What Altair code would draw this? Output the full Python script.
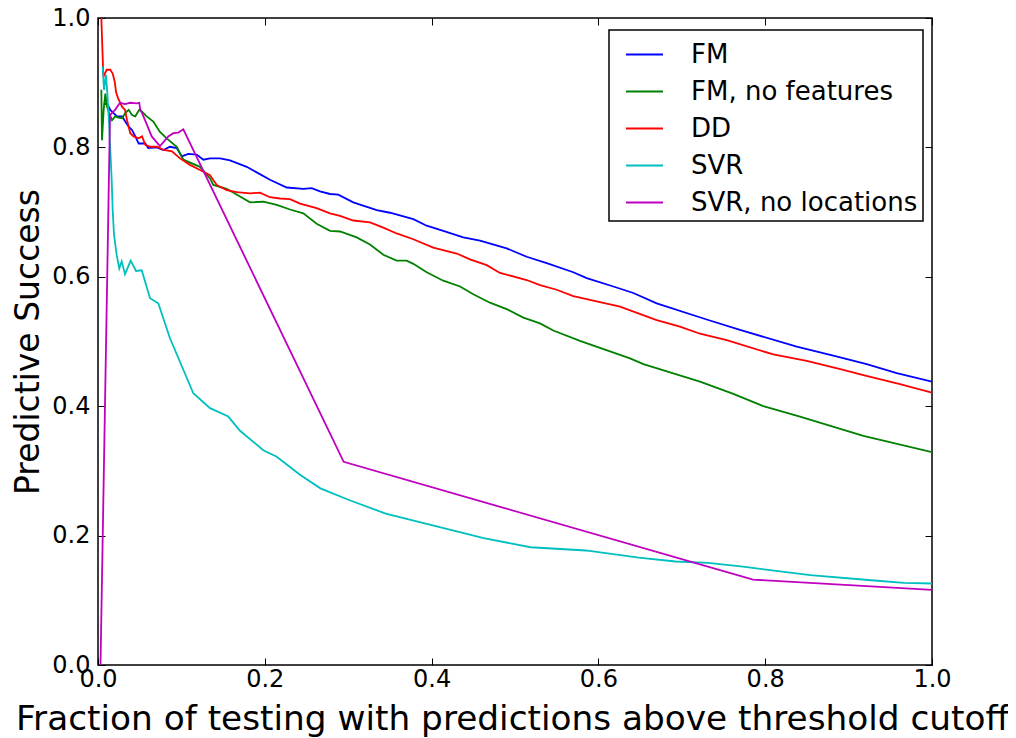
import altair as alt
import pandas as pd

# ---- data ----
series = ["FM", "FM, no features", "DD", "SVR", "SVR, no locations"]
colors = ["#0000ff", "#008000", "#ff0000", "#00bfbf", "#bf00bf"]

fm_x = [0.0068, 0.0108, 0.0147, 0.0228, 0.0288, 0.0327, 0.0368, 0.0408, 0.0447, 0.0488,
        0.0567, 0.0603, 0.0704, 0.0783, 0.0863, 0.0944, 0.1004, 0.1083, 0.1183, 0.1263,
        0.1343, 0.1463, 0.1583, 0.1783, 0.2062, 0.2263, 0.2462, 0.2562, 0.2662, 0.2782,
        0.2881, 0.3061, 0.3342, 0.3501, 0.3781, 0.3941, 0.4140, 0.4380, 0.4580, 0.4900,
        0.5140, 0.5380, 0.5699, 0.5860, 0.6179, 0.6419, 0.6699, 0.7298, 0.7698, 0.8378,
        0.8816, 0.9217, 0.9577, 1.0]
fm_y = [0.866, 0.868, 0.858, 0.848, 0.848, 0.840, 0.832, 0.827, 0.817, 0.806,
        0.806, 0.799, 0.800, 0.796, 0.801, 0.799, 0.786, 0.790, 0.789, 0.781,
        0.783, 0.783, 0.780, 0.770, 0.750, 0.738, 0.736, 0.737, 0.732, 0.728,
        0.727, 0.715, 0.703, 0.699, 0.689, 0.679, 0.671, 0.661, 0.656, 0.644,
        0.631, 0.621, 0.607, 0.598, 0.585, 0.575, 0.559, 0.534, 0.518, 0.492,
        0.478, 0.465, 0.451, 0.438]

fmnf_x = [0.0040, 0.0048, 0.0068, 0.0088, 0.0108, 0.0135, 0.0168, 0.0207, 0.0246, 0.0288,
          0.0327, 0.0368, 0.0408, 0.0447, 0.0495, 0.0528, 0.0584, 0.0663, 0.0743, 0.0824,
          0.0944, 0.1023, 0.1223, 0.1343, 0.1383, 0.1543, 0.1703, 0.1823, 0.1982, 0.2143,
          0.2302, 0.2462, 0.2622, 0.2782, 0.2902, 0.3102, 0.3261, 0.3421, 0.3581, 0.3701,
          0.3781, 0.3941, 0.4140, 0.4341, 0.4500, 0.4700, 0.4900, 0.5100, 0.5300, 0.5459,
          0.5779, 0.6019, 0.6379, 0.6540, 0.7218, 0.7618, 0.7977, 0.8417, 0.9177, 1.0]
fmnf_y = [0.889, 0.811, 0.858, 0.883, 0.863, 0.853, 0.842, 0.848, 0.846, 0.845,
          0.853, 0.858, 0.850, 0.848, 0.858, 0.855, 0.848, 0.840, 0.824, 0.814,
          0.801, 0.781, 0.770, 0.752, 0.742, 0.736, 0.724, 0.715, 0.716, 0.711,
          0.704, 0.698, 0.682, 0.671, 0.670, 0.661, 0.650, 0.634, 0.625, 0.625,
          0.620, 0.607, 0.594, 0.585, 0.573, 0.560, 0.550, 0.537, 0.528, 0.517,
          0.501, 0.490, 0.474, 0.465, 0.438, 0.419, 0.400, 0.384, 0.354, 0.329]

dd_x = [0.0040, 0.0064, 0.0104, 0.0147, 0.0176, 0.0200, 0.0216, 0.0240, 0.0288, 0.0324,
        0.0348, 0.0387, 0.0428, 0.0488, 0.0528, 0.0567, 0.0627, 0.0707, 0.0788, 0.0887,
        0.0983, 0.1103, 0.1223, 0.1343, 0.1423, 0.1543, 0.1663, 0.1823, 0.1942, 0.2062,
        0.2182, 0.2302, 0.2422, 0.2622, 0.2782, 0.2902, 0.3061, 0.3261, 0.3421, 0.3581,
        0.3781, 0.4020, 0.4301, 0.4460, 0.4661, 0.4820, 0.5140, 0.5300, 0.5500, 0.5699,
        0.6019, 0.6259, 0.6699, 0.6978, 0.7218, 0.7538, 0.8097, 0.8498, 0.8937, 0.9177,
        0.9616, 1.0]
dd_y = [1.000, 0.909, 0.920, 0.920, 0.914, 0.902, 0.886, 0.876, 0.863, 0.858,
        0.842, 0.822, 0.817, 0.814, 0.817, 0.804, 0.801, 0.801, 0.796, 0.794,
        0.783, 0.773, 0.765, 0.757, 0.742, 0.734, 0.731, 0.729, 0.730, 0.723,
        0.721, 0.720, 0.713, 0.706, 0.698, 0.694, 0.687, 0.684, 0.676, 0.667,
        0.658, 0.645, 0.636, 0.627, 0.618, 0.606, 0.595, 0.587, 0.580, 0.570,
        0.561, 0.554, 0.533, 0.523, 0.512, 0.502, 0.480, 0.470, 0.456, 0.448,
        0.434, 0.421]

svr_x = [0.0056, 0.0072, 0.0096, 0.0112, 0.0135, 0.0164, 0.0176, 0.0192, 0.0224, 0.0255,
         0.0284, 0.0324, 0.0392, 0.0456, 0.0524, 0.0624, 0.0723, 0.0863, 0.1143, 0.1343,
         0.1562, 0.1703, 0.1982, 0.2143, 0.2422, 0.2667, 0.3010, 0.3450, 0.4037, 0.4625,
         0.5187, 0.5848, 0.6484, 0.6924, 0.7316, 0.7733, 0.8540, 0.9273, 0.9664, 1.0]
svr_y = [0.925, 0.889, 0.912, 0.883, 0.832, 0.750, 0.703, 0.665, 0.634, 0.613,
         0.624, 0.604, 0.625, 0.609, 0.610, 0.567, 0.559, 0.505, 0.420, 0.397,
         0.384, 0.362, 0.332, 0.322, 0.294, 0.273, 0.255, 0.234, 0.215, 0.196,
         0.182, 0.177, 0.166, 0.160, 0.158, 0.152, 0.139, 0.131, 0.127, 0.126]

svrnl_x = [0.0030, 0.0144, 0.0204, 0.0264, 0.0324, 0.0384, 0.0464, 0.0495, 0.0504, 0.0564,
           0.0644, 0.0743, 0.0843, 0.0903, 0.0963, 0.1023, 0.2946, 0.7854, 1.0]
svrnl_y = [0.000, 0.850, 0.858, 0.869, 0.867, 0.869, 0.868, 0.869, 0.860, 0.842,
           0.817, 0.802, 0.817, 0.822, 0.823, 0.828, 0.314, 0.132, 0.116]

tick_values = [0.0, 0.2, 0.4, 0.6, 0.8, 1.0]

rows = []
for name, xs, ys in zip(series,
                        [fm_x, fmnf_x, dd_x, svr_x, svrnl_x],
                        [fm_y, fmnf_y, dd_y, svr_y, svrnl_y]):
    for i, (a, b) in enumerate(zip(xs, ys)):
        rows.append({"series": name, "x": a, "y": b, "order": i})
df = pd.DataFrame(rows)

FONT = "DejaVu Sans"
x_scale = alt.Scale(domain=[0, 1], nice=False, zero=False)
y_scale = alt.Scale(domain=[0, 1], nice=False, zero=False)

lines = alt.Chart(df).mark_line(strokeWidth=1.8, clip=True).encode(
    x=alt.X("x:Q", scale=x_scale,
            axis=alt.Axis(orient="bottom", values=tick_values, format=".1f",
                          title="Fraction of testing with predictions above threshold cutoff",
                          offset=-7, tickSize=7, labelPadding=2, labelFlush=False,
                          labelBaseline="top", titleFontSize=34.3,
                          titleX=414, titleY=71, titleBaseline="alphabetic",
                          titleAlign="center", titleAnchor="middle", domain=False)),
    y=alt.Y("y:Q", scale=y_scale,
            axis=alt.Axis(orient="left", values=tick_values, format=".1f",
                          title="Predictive Success",
                          offset=-7, tickSize=7, labelPadding=8, labelFlush=False,
                          titleX=-67, titleY=323.5, titleAngle=270,
                          titleBaseline="alphabetic", titleAlign="center",
                          domain=False)),
    color=alt.Color("series:N",
                    scale=alt.Scale(domain=series, range=colors),
                    sort=series,
                    legend=alt.Legend(title=None, orient="none", legendX=511, legendY=12,
                                      symbolType="stroke", symbolSize=1369,
                                      symbolStrokeWidth=2, symbolOffset=11,
                                      labelFontSize=26, labelLimit=0,
                                      labelFont=FONT, labelColor="black",
                                      labelOffset=27, rowPadding=4, padding=5,
                                      strokeColor="black", fillColor="white",
                                      cornerRadius=0)),
    order="order:Q",
)

frame = alt.Chart(df).mark_point(opacity=0).encode(
    x=alt.X("x:Q", scale=x_scale,
            axis=alt.Axis(orient="top", values=tick_values, labels=False, title=None,
                          offset=-7, tickSize=7, domain=False)),
    y=alt.Y("y:Q", scale=y_scale,
            axis=alt.Axis(orient="right", values=tick_values, labels=False, title=None,
                          offset=-7, tickSize=7, domain=False)),
)

chart = alt.layer(lines, frame).resolve_axis(
    x="independent", y="independent"
).properties(
    width=834, height=647,
    autosize=alt.AutoSizeParams(type="none"),
    padding={"left": 90, "top": 10, "right": 76, "bottom": 72},
).configure_view(
    stroke="black", strokeWidth=1.5
).configure_axis(
    grid=False, labelFont=FONT, labelFontSize=24, labelColor="black",
    tickColor="black", tickWidth=1,
    titleFont=FONT, titleFontSize=33, titleFontWeight="normal", titleColor="black",
).configure_legend(
    strokeWidth=1.5
)

chart.save("out.html", embed_options={"renderer": "svg", "actions": False})
